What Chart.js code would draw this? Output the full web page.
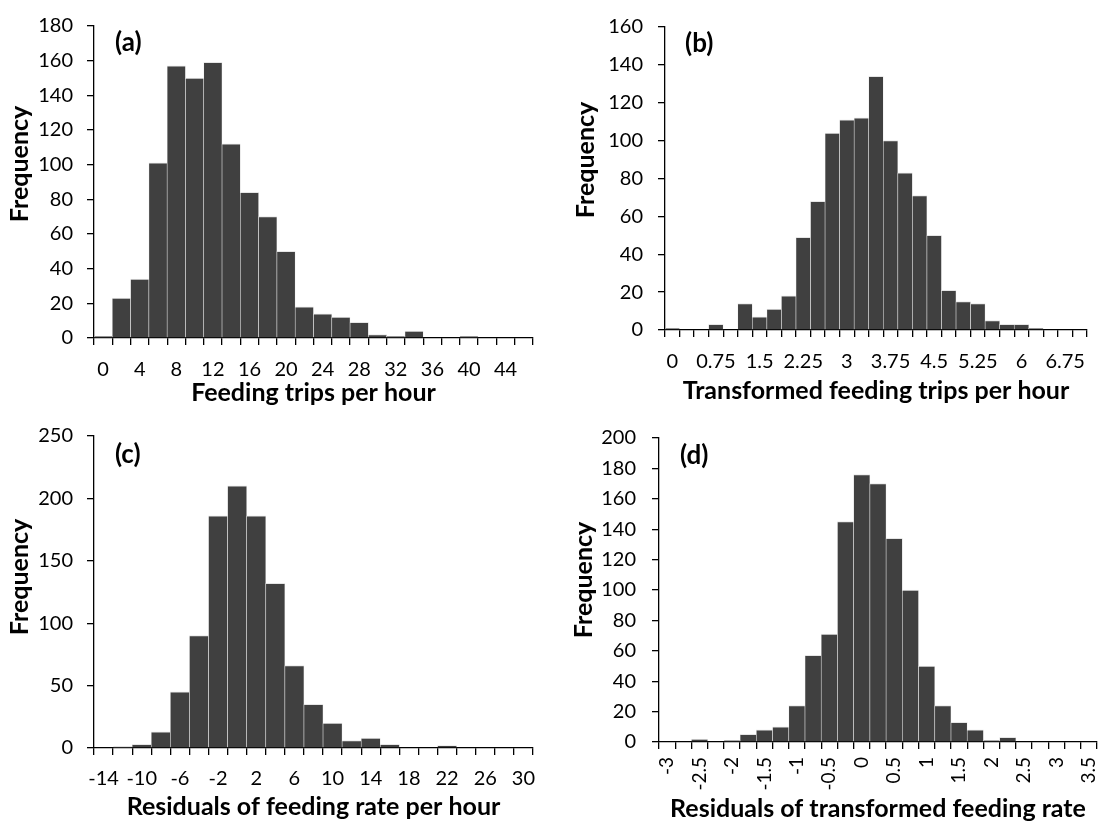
<!DOCTYPE html>
<html lang="en">
<head>
    <meta charset="UTF-8">
    <title>Frequency histograms</title>
    <script src="https://cdn.jsdelivr.net/npm/chart.js"></script>
    <style>
        body { margin: 0; background: #fff; overflow: hidden; }
        .panel { position: absolute; }
    </style>
</head>
<body>
    <canvas id="chartA" class="panel" width="551" height="410" style="left:0;top:0"></canvas>
    <canvas id="chartB" class="panel" width="551" height="410" style="left:551px;top:0"></canvas>
    <canvas id="chartC" class="panel" width="551" height="415" style="left:0;top:410px"></canvas>
    <canvas id="chartD" class="panel" width="551" height="415" style="left:551px;top:410px"></canvas>

    <script>
        // (a) feeding trips per hour
        const binsA = ['0','2','4','6','8','10','12','14','16','18','20','22','24','26','28','30','32','34','36','38','40','42','44','46'];
        const freqA = [1, 23, 34, 101, 157, 150, 159, 112, 84, 70, 50, 18, 14, 12, 9, 2, 1, 4, 0, 0, 1, 0, 0, 0];

        // (b) transformed feeding trips per hour
        const binsB = ['0','0.25','0.5','0.75','1','1.25','1.5','1.75','2','2.25','2.5','2.75','3','3.25','3.5','3.75','4','4.25','4.5','4.75','5','5.25','5.5','5.75','6','6.25','6.5','6.75','7'];
        const freqB = [1, 0, 0, 3, 0, 14, 7, 11, 18, 49, 68, 104, 111, 112, 134, 100, 83, 71, 50, 21, 15, 14, 5, 3, 3, 1, 0, 0, 0];

        // (c) residuals of feeding rate
        const binsC = ['-14','-12','-10','-8','-6','-4','-2','0','2','4','6','8','10','12','14','16','18','20','22','24','26','28','30'];
        const freqC = [0, 1, 3, 13, 45, 90, 186, 210, 186, 132, 66, 35, 20, 6, 8, 3, 0, 0, 2, 0, 0, 0, 0];

        // (d) residuals of transformed feeding rate
        const binsD = ['-3','-2.75','-2.5','-2.25','-2','-1.75','-1.5','-1.25','-1','-0.75','-0.5','-0.25','0','0.25','0.5','0.75','1','1.25','1.5','1.75','2','2.25','2.5','2.75','3','3.25','3.5'];
        const freqD = [0, 0, 2, 0, 1, 5, 8, 10, 24, 57, 71, 145, 176, 170, 134, 100, 50, 24, 13, 8, 1, 3, 0, 0, 0, 0, 0];

        const FONT = 'Lato, "Open Sans", sans-serif';
        const BAR = '#404040';

        // panel letter inside the plot, and the y title (sits a bit above centre in the original)
        const panelText = {
            id: 'panelText',
            afterDraw(chart, args, opts) {
                const ctx = chart.ctx;
                const area = chart.chartArea;
                ctx.save();
                ctx.fillStyle = '#000';
                ctx.textBaseline = 'middle';
                ctx.font = 'bold 26px ' + FONT;
                ctx.textAlign = 'left';
                ctx.fillText(opts.letter, area.left + opts.letterDx, area.top + opts.letterDy);

                ctx.font = 'bold 25px ' + FONT;
                ctx.textAlign = 'center';
                ctx.translate(opts.yTitleX, opts.yTitleY);
                ctx.rotate(-Math.PI / 2);
                ctx.fillText('Frequency', 0, 0);
                ctx.restore();
            }
        };

        function makeHistogram(id, cfg) {
            const ctx = document.getElementById(id).getContext('2d');
            return new Chart(ctx, {
                type: 'bar',
                data: {
                    labels: cfg.bins,
                    datasets: [{
                        data: cfg.freq,
                        backgroundColor: BAR,
                        borderColor: '#e6e6e6',
                        borderWidth: { top: 1, left: 0.6, right: 0.6, bottom: 0 },
                        borderSkipped: 'start',
                        barPercentage: 1,
                        categoryPercentage: 1
                    }]
                },
                options: {
                    responsive: false,
                    animation: false,
                    layout: { padding: cfg.padding },
                    plugins: {
                        legend: { display: false },
                        tooltip: { enabled: false },
                        panelText: {
                            letter: cfg.letter, letterDx: cfg.letterDx, letterDy: cfg.letterDy,
                            yTitleX: cfg.yTitleX, yTitleY: cfg.yTitleY
                        }
                    },
                    scales: {
                        x: {
                            afterFit: s => {
                                s.height = cfg.xHeight;
                                // don't let edge labels push the plot area in
                                s.paddingLeft = 0;
                                s.paddingRight = 0;
                            },
                            border: { display: true, color: '#000', width: 1.3 },
                            grid: { display: true, drawOnChartArea: false, color: '#000', lineWidth: 1.3, tickLength: 7 },
                            ticks: {
                                autoSkip: false,
                                minRotation: cfg.rotate,
                                maxRotation: cfg.rotate,
                                padding: cfg.xTickPad,
                                color: '#000',
                                font: { family: FONT, size: cfg.xTickSize },
                                callback: function (v, i) {
                                    return i % cfg.every === 0 ? this.getLabelForValue(v) : '';
                                }
                            },
                            title: {
                                display: true,
                                text: cfg.xTitle,
                                color: '#000',
                                font: { family: FONT, size: 25, weight: 'bold' },
                                padding: { top: 0, bottom: cfg.xTitlePad }
                            }
                        },
                        y: {
                            min: 0,
                            max: cfg.yMax,
                            afterFit: s => { s.width = cfg.yWidth; },
                            border: { display: true, color: '#000', width: 1.3 },
                            grid: { display: true, drawOnChartArea: false, color: '#000', lineWidth: 1.3, tickLength: 7 },
                            ticks: {
                                stepSize: cfg.yStep,
                                padding: cfg.yTickPad,
                                color: '#000',
                                font: { family: FONT, size: 20 }
                            }
                        }
                    }
                },
                plugins: [panelText]
            });
        }

        makeHistogram('chartA', {
            bins: binsA, freq: freqA, every: 2, rotate: 0, xTickSize: 20,
            yMax: 180, yStep: 20, letter: '(a)', letterDx: 21, letterDy: 17,
            xTitle: 'Feeding trips per hour',
            padding: { left: 0, right: 18, top: 18, bottom: 0 },
            yWidth: 94, xHeight: 72, xTickPad: 13, xTitlePad: 2, yTickPad: 14,
            yTitleX: 20, yTitleY: 164
        });

        makeHistogram('chartB', {
            bins: binsB, freq: freqB, every: 3, rotate: 0, xTickSize: 20,
            yMax: 160, yStep: 20, letter: '(b)', letterDx: 20, letterDy: 17,
            xTitle: 'Transformed feeding trips per hour',
            padding: { left: 0, right: 15, top: 18, bottom: 0 },
            yWidth: 114, xHeight: 80, xTickPad: 13, xTitlePad: 4, yTickPad: 15,
            yTitleX: 35, yTitleY: 160
        });

        makeHistogram('chartC', {
            bins: binsC, freq: freqC, every: 2, rotate: 0, xTickSize: 20,
            yMax: 250, yStep: 50, letter: '(c)', letterDx: 21, letterDy: 19,
            xTitle: 'Residuals of feeding rate per hour',
            padding: { left: 0, right: 18, top: 24, bottom: 0 },
            yWidth: 94, xHeight: 77, xTickPad: 12, xTitlePad: 3, yTickPad: 14,
            yTitleX: 20, yTitleY: 167
        });

        makeHistogram('chartD', {
            bins: binsD, freq: freqD, every: 2, rotate: 90, xTickSize: 19,
            yMax: 200, yStep: 20, letter: '(d)', letterDx: 21, letterDy: 18,
            xTitle: 'Residuals of transformed feeding rate',
            padding: { left: 0, right: 5, top: 24, bottom: 0 },
            yWidth: 108, xHeight: 83, xTickPad: 8, xTitlePad: 1, yTickPad: 16,
            yTitleX: 33, yTitleY: 170
        });
    </script>
</body>
</html>
